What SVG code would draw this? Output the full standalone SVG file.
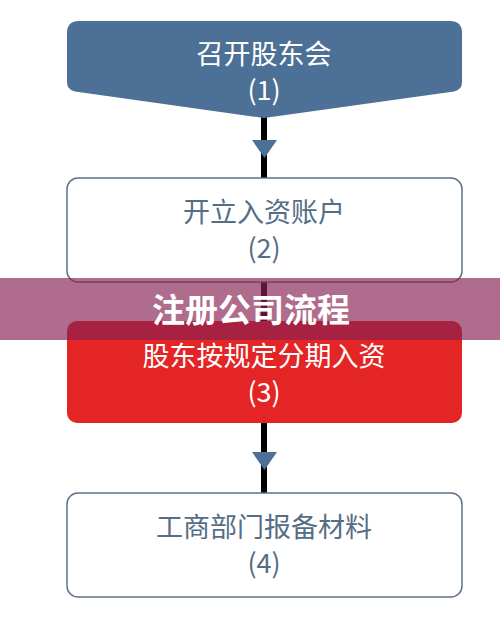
<svg xmlns="http://www.w3.org/2000/svg" width="500" height="619" viewBox="0 0 500 619">
<defs>
<style>
.t{font-family:"Noto Sans CJK SC","Noto Sans",sans-serif;font-size:27px;text-anchor:middle;}
.w{fill:#ffffff;}
.g{fill:#556d86;}
.box{fill:#ffffff;stroke:#5f7286;stroke-width:1.5;}
.ln{stroke:#000000;stroke-width:6;}
.ah{fill:#4c7096;}
</style>
</defs>
<rect width="500" height="619" fill="#ffffff"/>
<g id="connectors">
<line class="ln" x1="264" y1="110" x2="264" y2="179"/>
<polygon class="ah" points="252,140 277,140 264.5,158"/>
<line class="ln" x1="264" y1="282" x2="264" y2="323"/>
<line class="ln" x1="264" y1="422" x2="264" y2="494"/>
<polygon class="ah" points="252,452 277,452 264.5,470"/>
</g>
<g id="node1">
<path d="M79,21 H450 Q462,21 462,33 V82 Q462,90 454,91.5 L264,118 L75,91.5 Q67,90 67,82 V33 Q67,21 79,21 Z" fill="#4c7096"/>
<text class="t w" x="264" y="64">召开股东会</text>
<text class="t w" x="264" y="100">(1)</text>
</g>
<g id="node2">
<rect class="box" x="67" y="178" width="395" height="104" rx="11"/>
<text class="t g" x="264" y="222">开立入资账户</text>
<text class="t g" x="264" y="258">(2)</text>
</g>
<g id="node3">
<rect x="67" y="321" width="395" height="102" rx="10" fill="#e32526"/>
<text class="t w" x="264" y="366">股东按规定分期入资</text>
<text class="t w" x="264" y="402">(3)</text>
</g>
<g id="node4">
<rect class="box" x="67" y="493" width="395" height="104" rx="11"/>
<text class="t g" x="264" y="537">工商部门报备材料</text>
<text class="t g" x="264" y="573">(4)</text>
</g>
<g id="banner">
<rect x="0" y="278" width="500" height="62" fill="#872051" fill-opacity="0.66"/>
<text x="251" y="322" font-family="Noto Sans CJK SC,sans-serif" font-size="33" font-weight="bold" fill="#ffffff" text-anchor="middle">注册公司流程</text>
</g>
</svg>
